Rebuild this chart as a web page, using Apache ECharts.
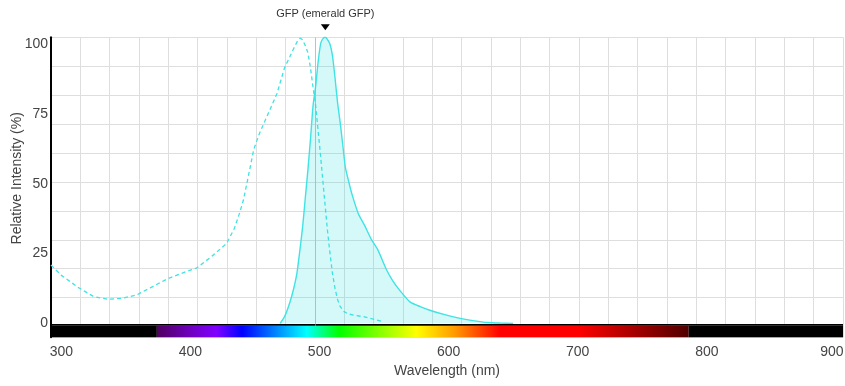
<!DOCTYPE html>
<html>
<head>
<meta charset="utf-8">
<script src="https://cdn.jsdelivr.net/npm/echarts@6/dist/echarts.min.js"></script>
<style>html,body{margin:0;padding:0;background:#fff}#c{width:845px;height:386px}</style>
</head>
<body>
<div id="c"></div>
<script>
// ---- data ----
const chartTitle = 'GFP (emerald GFP)';
const xName = 'Wavelength (nm)';
const yName = 'Relative Intensity (%)';
const xTicks = [300, 400, 500, 600, 700, 800, 900];
const yTicks = [0, 25, 50, 75, 100];

const exWl  = [292, 300, 314, 325, 336, 347, 358, 370, 382, 393, 405, 416, 428, 434, 438, 441, 445, 449, 453, 457, 462, 467, 470, 473, 477, 480, 483, 485, 487, 489, 491, 493, 495, 497, 500, 503, 506, 508, 510, 512, 514, 516, 519, 522, 528, 534, 541, 548];
const exVal = [20.9, 17.2, 12.6, 9.6, 8.6, 9.0, 10.1, 13.0, 15.9, 17.9, 19.9, 23.8, 28.6, 34.0, 39.4, 44.1, 53.0, 62.2, 67.5, 71.8, 77.0, 82.3, 87.0, 91.7, 95.5, 98.5, 101.2, 102.2, 101.6, 99.5, 97.0, 91.5, 84.5, 78.0, 64.0, 49.0, 34.0, 25.5, 18.0, 12.5, 8.5, 6.0, 4.2, 3.4, 2.8, 2.4, 1.6, 0.7];

const emWl  = [469.5, 473, 477, 480, 482.5, 485, 487, 489, 491, 493, 495, 497, 499, 501, 503, 504.5, 506, 508, 510, 512, 514, 516, 518, 520, 522.5, 525, 530, 535, 540, 545, 552, 557, 562, 570, 578, 586, 597, 609, 620, 630, 640, 650];
const emVal = [0, 2.5, 7.5, 12.5, 18, 27, 35, 45, 55, 66, 78, 85, 94, 100.5, 102.2, 102.5, 101.8, 100.2, 96, 88, 79, 72, 64, 56, 51, 46.5, 39.4, 35, 30.2, 26.5, 19.1, 15, 11.9, 7.7, 6, 4.6, 3.1, 1.8, 0.9, 0.3, 0.1, 0];

const markerWl = 496.5;
// visible spectrum band (nm) and its colour stops
const specStart = 374, specEnd = 786;
const specWl  = [374, 400, 420, 440, 465, 490, 515, 545, 575, 605, 640, 700, 786];
const specCol = ['#500060', '#7000c0', '#8000ff', '#0000ff', '#0080ff', '#00ffff', '#00ff00', '#80ff00', '#ffff00', '#ff9900', '#ff0000', '#ff0000', '#500000'];

// ---- chart ----
const X_MIN = 292, X_MAX = 905.5, Y_MIN = -5, Y_MAX = 102.5;
const font = "'Liberation Sans', Arial, sans-serif";
const lineColor = '#3fe3e3';

const chart = echarts.init(document.getElementById('c'), null, {renderer: 'canvas'});
const pair = (a, b) => a.map((v, i) => [v, b[i]]);
const gradStops = specWl.map((w, i) => ({offset: (w - specStart) / (specEnd - specStart), color: specCol[i]}));

chart.setOption({
  animation: false,
  backgroundColor: '#fff',
  grid: {left: 51, right: 2, top: 37.3, bottom: 48.7, containLabel: false, outerBoundsMode: 'none'},
  xAxis: [{
    type: 'value', min: X_MIN, max: X_MAX, interval: 4,
    name: xName, nameLocation: 'middle', nameGap: 27, nameMoveOverlap: false,
    nameTextStyle: {fontFamily: font, fontSize: 14, color: '#444'},
    axisLine: {show: false, onZero: false}, axisTick: {show: false}, splitLine: {show: false},
    axisLabel: {
      margin: 8, fontFamily: font, fontSize: 14, color: '#444',
      formatter: v => xTicks.includes(v) ? (v === 900 ? '{r|' + v + '}' : String(v)) : '',
      rich: {r: {fontFamily: font, fontSize: 14, color: '#444', padding: [0, 8, 0, 0]}}
    }
  }, {
    type: 'value', min: 0, max: 27, interval: 1, position: 'top',
    axisLine: {show: false}, axisTick: {show: false}, axisLabel: {show: false},
    splitLine: {show: true, lineStyle: {color: '#dedede', width: 1}}
  }],
  yAxis: [{
    type: 'value', min: Y_MIN, max: Y_MAX, interval: 5,
    name: yName, nameLocation: 'middle', nameGap: 27, nameMoveOverlap: false,
    nameTextStyle: {fontFamily: font, fontSize: 14, color: '#444', padding: [0, 0, 0, 18]},
    axisLine: {show: true, onZero: false, lineStyle: {color: '#000', width: 2}},
    axisTick: {show: false}, splitLine: {show: false},
    axisLabel: {margin: 3, fontFamily: font, fontSize: 14, color: '#444',
      formatter: v => yTicks.includes(v) ? String(v) : ''}
  }, {
    type: 'value', min: 0, max: 10.37, interval: 1, inverse: true, position: 'right',
    axisLine: {show: false}, axisTick: {show: false}, axisLabel: {show: false},
    splitLine: {show: true, lineStyle: {color: '#dedede', width: 1}}
  }],
  series: [{
    name: 'band', type: 'line', data: [], silent: true,
    markLine: {
      silent: true, symbol: 'none', label: {show: false},
      lineStyle: {color: 'rgba(240,140,140,0.6)', width: 1, type: 'solid'},
      data: [{xAxis: markerWl}]
    },
    markArea: {
      silent: true,
      data: [
        [{xAxis: X_MIN, yAxis: Y_MIN, itemStyle: {color: '#000'}}, {xAxis: specStart, yAxis: -0.9}],
        [{xAxis: specStart, yAxis: Y_MIN, itemStyle: {color: new echarts.graphic.LinearGradient(0, 0, 1, 0, gradStops)}}, {xAxis: specEnd, yAxis: -0.9}],
        [{xAxis: specEnd, yAxis: Y_MIN, itemStyle: {color: '#000'}}, {xAxis: X_MAX, yAxis: -0.9}],
        [{xAxis: X_MIN, yAxis: -0.9, itemStyle: {color: '#000'}}, {xAxis: X_MAX, yAxis: -0.2}]
      ]
    }
  }, {
    name: 'Excitation', type: 'line', data: pair(exWl, exVal), showSymbol: false, smooth: false,
    lineStyle: {color: lineColor, width: 1.3, type: [4, 3]}, z: 3
  }, {
    name: 'Emission', type: 'line', data: pair(emWl, emVal), showSymbol: false, smooth: 0.2,
    lineStyle: {color: lineColor, width: 1.4},
    areaStyle: {color: 'rgba(40,225,225,0.28)', origin: 0}, z: 4,
    markPoint: {
      silent: true, symbol: 'triangle', symbolRotate: 180, symbolSize: [9, 6], symbolOffset: [0, -10],
      itemStyle: {color: '#000'},
      label: {show: true, position: 'top', distance: 5, formatter: chartTitle,
        fontFamily: font, fontSize: 11, color: '#333'},
      data: [{type: 'max'}]
    }
  }]
});
</script>
</body>
</html>
